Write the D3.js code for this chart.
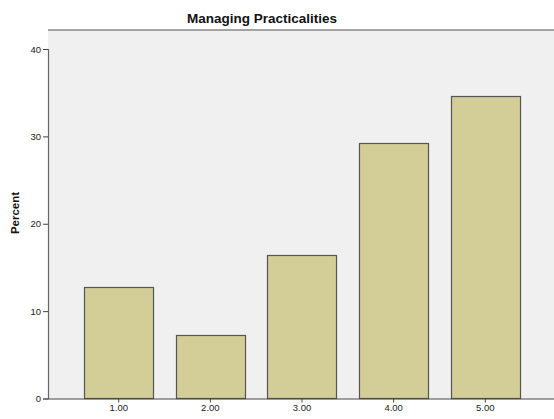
<!DOCTYPE html>
<html><head><meta charset="utf-8">
<script src="https://cdn.jsdelivr.net/npm/d3@7"></script>
<style>html,body{margin:0;padding:0;background:#fff;}svg{display:block;}</style>
</head><body>
<svg id="c" width="554" height="419"></svg>
<script>
const categories = ["1.00","2.00","3.00","4.00","5.00"];
const percents = [12.8, 7.3, 16.4, 29.2, 34.6];
const yTicks = [0,10,20,30,40];
const title = "Managing Practicalities";
const yLabel = "Percent";

const svg = d3.select("#c");
const pLeft = 48, pRight = 556, pTop = 30, pBottom = 398.5;

const x = d3.scaleBand().domain(categories).range([pLeft, pRight]).paddingInner(0.247).paddingOuter(0.395);
const y = d3.scaleLinear().domain([0, 40]).range([pBottom, 49]);

svg.append("rect").attr("x", pLeft).attr("y", pTop).attr("width", pRight-pLeft).attr("height", pBottom-pTop).attr("fill", "#f0f0f0");
svg.append("line").attr("x1", pLeft).attr("x2", pRight).attr("y1", pTop).attr("y2", pTop).attr("stroke", "#888").attr("stroke-width", 1.6);

svg.append("g").selectAll("rect").data(percents).join("rect")
  .attr("x", (d,i) => Math.round(x(categories[i])) + 0.5)
  .attr("y", d => Math.round(y(d)) + 0.5)
  .attr("width", x.bandwidth())
  .attr("height", d => pBottom - Math.round(y(d)) - 0.5)
  .attr("fill", "#d3ce97").attr("stroke", "#555").attr("stroke-width", 1.2);

const ya = svg.append("g").attr("transform", `translate(${pLeft},0)`)
  .call(d3.axisLeft(y).tickValues(yTicks).tickSize(5).tickPadding(2).tickFormat(d3.format("d")));
ya.select(".domain").attr("stroke", "#666").attr("stroke-width", 1.2);
ya.selectAll(".tick line").attr("stroke", "#444");
ya.selectAll("text").attr("font-family", "Liberation Sans, Arial, sans-serif").attr("font-size", 9.5).attr("fill", "#222");

const xa = svg.append("g").attr("transform", `translate(0,${pBottom})`)
  .call(d3.axisBottom(x).tickSize(4).tickPadding(2).tickSizeOuter(0));
xa.select(".domain").attr("stroke", "#444").attr("stroke-width", 1.2);
xa.selectAll(".tick line").attr("stroke", "#444");
xa.selectAll("text").attr("font-family", "Liberation Sans, Arial, sans-serif").attr("font-size", 9.5).attr("fill", "#222");

svg.append("text").attr("x", 262).attr("y", 23).attr("text-anchor", "middle")
  .attr("font-family", "Liberation Sans, Arial, sans-serif").attr("font-weight", "bold").attr("font-size", 13.5).attr("fill", "#111").text(title);

svg.append("text").attr("transform", "translate(19,213) rotate(-90)").attr("text-anchor", "middle")
  .attr("font-family", "Liberation Sans, Arial, sans-serif").attr("font-weight", "bold").attr("font-size", 11.5).attr("fill", "#111").text(yLabel);
</script>
</body></html>
